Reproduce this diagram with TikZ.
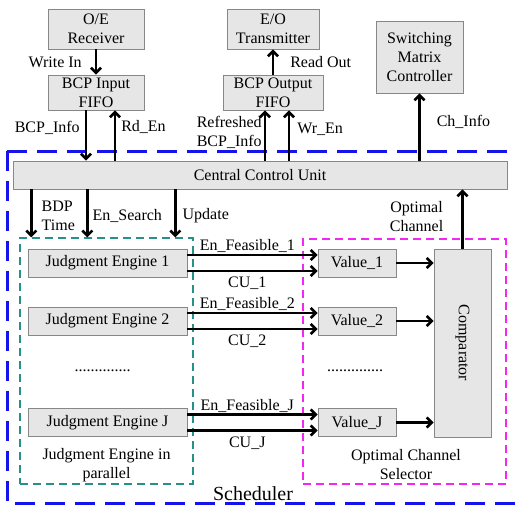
\documentclass[tikz,border=0pt]{standalone}
\usepackage{fontspec}
\setmainfont{Liberation Serif}
\usetikzlibrary{arrows.meta,positioning}
\definecolor{boxfill}{RGB}{230,230,230}
\definecolor{boxline}{RGB}{135,135,135}
\definecolor{schedblue}{RGB}{20,20,235}
\definecolor{jeteal}{RGB}{40,145,135}
\definecolor{ocsmag}{RGB}{240,40,240}

\begin{document}
\begin{tikzpicture}[x=1pt,y=-1pt,
    font=\fontsize{16}{19}\selectfont,
    box/.style={draw=boxline,fill=boxfill,line width=0.9pt,
      align=center,inner sep=0pt},
    arrow/.style={-{Straight Barb[length=5pt,width=10pt]},draw=black,line width=2.6pt},
    lbl/.style={inner sep=1pt,align=left},
    group/.style={line width=1.3pt,dash pattern=on 8pt off 5pt,inner sep=0pt}
  ]
    \useasboundingbox (0,0) rectangle (517,506);
    % outer scheduler frame
    \draw[schedblue,line width=3pt,dash pattern=on 20pt off 10pt] (7,151) -- (517,151);
    \draw[schedblue,line width=3pt,dash pattern=on 20pt off 10pt] (7,151) -- (7,503) -- (517,503);
    \node[font=\fontsize{20}{24}\selectfont] (sched) at (253,494) {Scheduler};

    % top blocks
    \node[box,minimum width=96pt,minimum height=40pt] (oe) at (96,29) {O/E\\Receiver};
    \node[box,minimum width=96pt,minimum height=35pt] (infifo) at (96,92.5) {BCP Input\\FIFO};
    \node[box,minimum width=92pt,minimum height=40pt] (eo) at (273,29) {E/O\\Transmitter};
    \node[box,minimum width=100pt,minimum height=35pt] (outfifo) at (273,92.5) {BCP Output\\FIFO};
    \node[box,minimum width=87pt,minimum height=72pt] (smc) at (419.5,57) {Switching\\Matrix\\Controller};
    \node[box,minimum width=494pt,minimum height=28pt] (ccu) at (260,175) {Central Control Unit};

    % groups
    \node[group,draw=jeteal,minimum width=173pt,minimum height=246pt] (jegroup) at (106.5,361) {};
    \node[group,draw=ocsmag,minimum width=203pt,minimum height=245pt] (ocsgroup) at (404.5,361.5) {};
    \node[align=center] (jecap) at (106.5,465) {Judgment Engine in\\parallel};
    \node[align=center] (ocscap) at (406,465) {Optimal Channel\\Selector};
    \node (jedots) at (102.5,371) {..............};
    \node (valdots) at (355,371) {..............};

    \node[box,minimum width=57pt,minimum height=188pt] (comp) at (462.5,343) {};
    \node[rotate=-90] (comptext) at (comp.center) {Comparator};

    % engines and values
    \foreach \i/\y in {1/263,2/321,J/422.5} {
      \node[box,minimum width=159pt,minimum height=28pt] (je\i) at (107.5,\y) {Judgment Engine \i};
      \node[box,minimum width=78pt,minimum height=28pt] (val\i) at (357,\y) {Value\_\i};
      \draw[arrow] ([yshift=8pt]je\i.east) -- node[pos=0.46,above,lbl] {En\_Feasible\_\i} ([yshift=8pt]val\i.west);
      \draw[arrow] ([yshift=-8pt]je\i.east) -- node[pos=0.46,below=4pt,lbl] {CU\_\i} ([yshift=-8pt]val\i.west);
      \draw[arrow] (val\i.east) -- (val\i.east -| comp.west);
    }

    % top connectors
    \draw[arrow] (oe) -- node[left=12pt,lbl] {Write In} (infifo);
    \draw[arrow] ([xshift=-10pt]infifo.south) -- node[pos=0.35,left=4pt,lbl] {BCP\_Info} ([xshift=-10pt]infifo.south |- ccu.north);
    \draw[arrow] ([xshift=19pt]infifo.south |- ccu.north) -- node[pos=0.67,right=4pt,lbl] {Rd\_En} ([xshift=19pt]infifo.south);
    \draw[arrow] (outfifo) -- node[right=15pt,lbl] {Read Out} (eo);
    \draw[arrow] ([xshift=-8pt]outfifo.south |- ccu.north) -- node[pos=0.57,left=1pt,lbl] {Refreshed\\BCP\_Info} ([xshift=-8pt]outfifo.south);
    \draw[arrow] ([xshift=16pt]outfifo.south |- ccu.north) -- node[pos=0.63,right=6pt,lbl] {Wr\_En} ([xshift=16pt]outfifo.south);
    \draw[arrow] (smc.south |- ccu.north) -- node[pos=0.57,right=15pt,lbl] {Ch\_Info} (smc);

    % control unit to engines
    \draw[arrow] ([xshift=12pt]jegroup.north west |- ccu.south) -- node[pos=0.55,right=8pt,lbl] {BDP\\Time} ([xshift=12pt]jegroup.north west);
    \draw[arrow] ([xshift=68pt]jegroup.north west |- ccu.south) -- node[pos=0.55,right=3pt,lbl] {En\_Search} ([xshift=68pt]jegroup.north west);
    \draw[arrow] ([xshift=156pt]jegroup.north west |- ccu.south) -- node[pos=0.55,right=5pt,lbl] {Update} ([xshift=156pt]jegroup.north west);
    \draw[arrow] (comp) -- node[pos=0.55,left=17pt,lbl,align=center] {Optimal\\Channel} (comp |- ccu.south);
  \end{tikzpicture}
\end{document}
